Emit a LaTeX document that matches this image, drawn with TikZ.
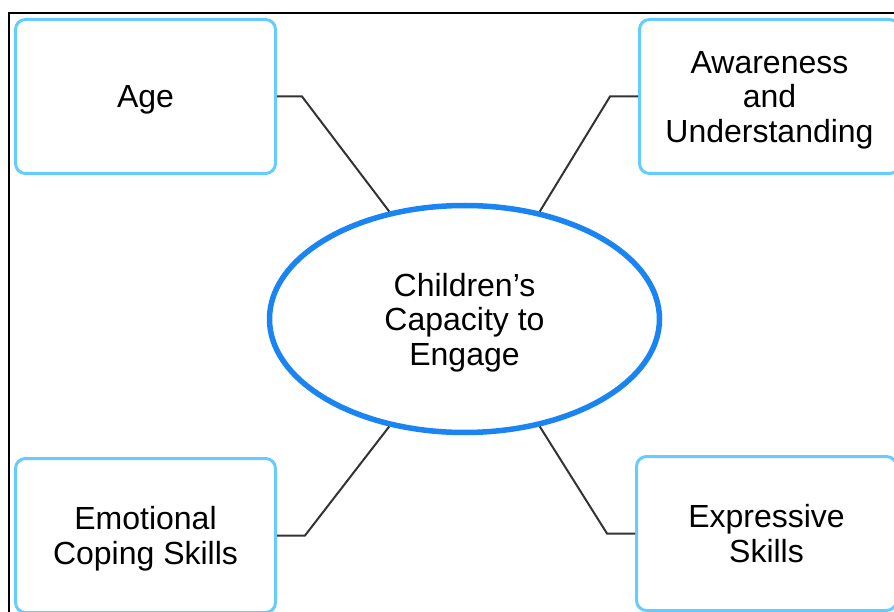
\documentclass[tikz,border=0pt]{standalone}
\usepackage{fontspec}
\setmainfont{Liberation Sans}
\usepackage{tikz}
\usepackage{xcolor}
\usetikzlibrary{shapes, positioning}

\definecolor{boxblue}{RGB}{102,204,255}
\definecolor{ringblue}{RGB}{26,132,242}
\definecolor{linkgray}{RGB}{51,51,51}

\tikzset{
    factor/.style={draw=boxblue, line width=3pt, rounded corners=10pt, fill=white,
        minimum width=260pt, minimum height=154pt, inner sep=0pt, align=center,
        text depth=0pt, font=\fontsize{32}{34.5}\selectfont},
    core/.style={ellipse, draw=ringblue, line width=5.5pt, fill=white,
        minimum width=390pt, minimum height=227pt, inner sep=0pt, align=center,
        text depth=0pt, font=\fontsize{32}{34.5}\selectfont},
    link/.style={draw=linkgray, line width=2pt}
}

\begin{document}
\begin{tikzpicture}[x=1pt, y=-1pt]
        \useasboundingbox (0, 0) rectangle (894, 612);
        \clip (0, 0) rectangle (894, 612);
        \draw[line width=2pt] (9, 13) rectangle (910, 630);

        \node[core] (engage) at (464.5, 319) {Children’s\\Capacity to\\Engage};

        \node[factor] (age) at (145.5, 96.5) {Age};
        \node[factor] (aware) at (769.5, 96.5) {Awareness\\and\\Understanding};
        \node[factor] (coping) at (145.5, 535.5) {Emotional\\Coping Skills};
        \node[factor] (express) at (766.5, 533.5) {Expressive\\Skills};

        \draw[link] (age.east) -- ++(25, 0) -- (engage.125);
        \draw[link] (aware.west) -- ++(-28, 0) -- (engage.55);
        \draw[link] (coping.east) -- ++(28, 0) -- (engage.235);
        \draw[link] (express.west) -- ++(-28, 0) -- (engage.305);
    \end{tikzpicture}
\end{document}
